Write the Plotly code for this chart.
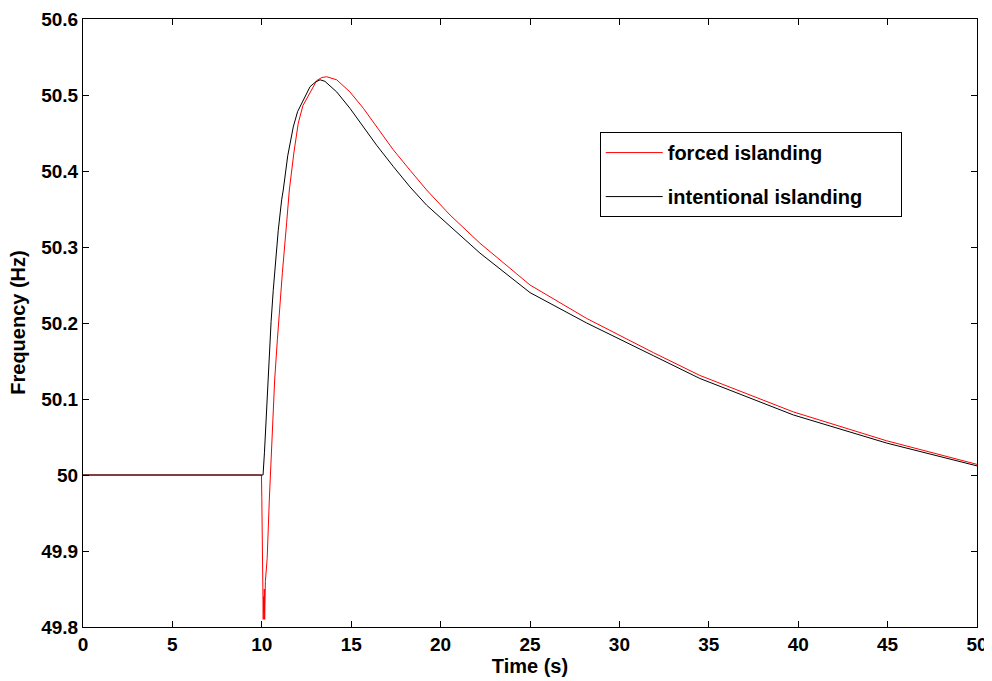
import plotly.graph_objects as go

# frequency response after islanding
t_forced = [0, 9.98, 10.0, 10.03, 10.06, 10.08, 10.1, 10.12, 10.14, 10.16, 10.2, 10.3,
            10.42, 10.55, 10.59, 10.72, 10.87, 11.0, 11.15, 11.39, 11.54, 11.8, 12.04,
            12.3, 12.7, 13.07, 13.35, 13.63, 14.19, 14.93, 15.68, 16.42, 17.35,
            18.29, 19.22, 20.53, 22.2, 25.0, 28.17, 31.9, 34.5, 39.73, 44.95, 50]
f_forced = [50.0, 50.0, 49.97, 49.88, 49.83, 49.81, 49.84, 49.82, 49.85, 49.81, 49.86, 49.89,
            49.967, 50.046, 50.068, 50.125, 50.178, 50.225, 50.266, 50.332, 50.375, 50.425, 50.463,
            50.486, 50.504, 50.519, 50.523, 50.524, 50.520, 50.504, 50.4825, 50.458, 50.428,
            50.401, 50.375, 50.342, 50.305, 50.25, 50.206, 50.161, 50.131, 50.083, 50.045, 50.014]

t_intent = [0, 10.07, 10.15, 10.23, 10.32, 10.40, 10.52, 10.64, 10.78, 10.92, 11.11, 11.2,
            11.45, 11.76, 12.0, 12.32, 12.7, 13.0, 13.26, 13.53, 14.19, 14.93, 15.68, 16.42,
            17.35, 18.29, 19.22, 20.53, 22.2, 25.0, 28.17, 31.9, 34.5, 39.73, 44.95, 50]
f_intent = [50.0, 50.0, 50.03, 50.068, 50.112, 50.156, 50.202, 50.243, 50.285, 50.322, 50.362, 50.375,
            50.42, 50.458, 50.478, 50.493, 50.511, 50.517, 50.520, 50.518, 50.504, 50.4825, 50.458, 50.434,
            50.406, 50.379, 50.355, 50.327, 50.292, 50.240, 50.2, 50.157, 50.127, 50.079, 50.042, 50.012]

x_ticks = [0, 5, 10, 15, 20, 25, 30, 35, 40, 45, 50]
y_ticks = [49.8, 49.9, 50.0, 50.1, 50.2, 50.3, 50.4, 50.5, 50.6]
y_labels = ["49.8", "49.9", "50", "50.1", "50.2", "50.3", "50.4", "50.5", "50.6"]

font = "Arial, Liberation Sans, sans-serif"
pad = "\u00a0" * 6  # blank room on the right of the legend box, like the original

fig = go.Figure()
fig.add_trace(go.Scatter(x=t_forced, y=f_forced, mode="lines", name="forced islanding",
                         legendgroup="a", line=dict(color="#ff0000", width=1)))
fig.add_trace(go.Scatter(x=t_intent, y=f_intent, mode="lines", name="intentional islanding" + pad,
                         legendgroup="b", line=dict(color="#000000", width=1)))

axis_common = dict(showgrid=False, zeroline=False, showline=True, linecolor="black", linewidth=1,
                   mirror="allticks", ticks="inside", ticklen=6, tickcolor="black", automargin=False,
                   tickfont=dict(family=font, size=19, color="black", weight="bold"))

fig.update_xaxes(range=[0, 50], tickvals=x_ticks,
                 title=dict(text="Time (s)", font=dict(family=font, size=20, color="black", weight="bold"),
                            standoff=2),
                 **axis_common)
fig.update_yaxes(range=[49.8, 50.6], tickvals=y_ticks, ticktext=y_labels, **axis_common)

# y title placed by hand, further from the tick labels than plotly's default
fig.add_annotation(text="Frequency (Hz)", xref="paper", yref="paper", x=-0.073, y=0.5,
                   xanchor="center", yanchor="middle", textangle=-90, showarrow=False,
                   font=dict(family=font, size=20, color="black", weight="bold"))

fig.update_layout(
    width=992, height=681,
    margin=dict(l=75, r=23, t=11, b=62),
    paper_bgcolor="white", plot_bgcolor="white",
    font=dict(family=font, color="black"),
    legend=dict(x=0.578, y=0.814, xanchor="left", yanchor="top",
                bordercolor="black", borderwidth=1, bgcolor="white",
                tracegroupgap=15, itemwidth=57,
                font=dict(family=font, size=20, color="black", weight="bold")),
)

fig.write_html("out.html")
